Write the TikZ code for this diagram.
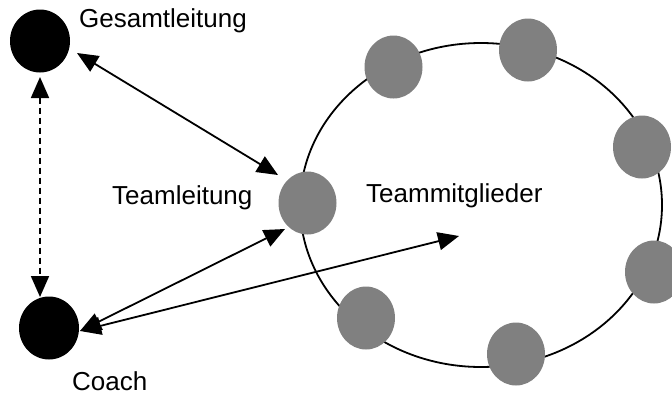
\documentclass[tikz,border=0pt]{standalone}
\usepackage{fontspec}
\setmainfont{Liberation Sans}
\usetikzlibrary{arrows.meta,shapes.geometric,calc}
\definecolor{gray50}{HTML}{808080}
\tikzset{
  blackdot/.style={ellipse,fill=black,minimum width=60pt,minimum height=63pt,inner sep=0pt},
  greydot/.style={ellipse,fill=gray50,minimum width=58pt,minimum height=63pt,inner sep=0pt},
  lbl/.style={anchor=base west,inner sep=0pt,font=\fontsize{26}{30}\selectfont},
  arr/.style={line width=1.8pt,{Triangle[length=21pt,width=18pt]}-{Triangle[length=21pt,width=18pt]}},
  dasharr/.style={arr,dash pattern=on 6pt off 4pt},
  ring/.style={line width=1.8pt}
}
\begin{document}
\begin{tikzpicture}[x=1pt,y=-1pt]
\useasboundingbox (0,0) rectangle (672,394);
\clip (0,0) rectangle (672,394);
\node[ellipse,draw,ring,minimum width=362pt,minimum height=324pt,inner sep=0pt] (team) at (481,205) {};
\node[blackdot] (G) at (40,41) {};
\node[blackdot] (C) at (49,328) {};
\node[greydot] (T) at (307.5,203) {};
\node[greydot] (m1) at (393.5,67) {};
\node[greydot] (m2) at (528,50) {};
\node[greydot] (m3) at (642,147) {};
\node[greydot] (m4) at (654,272) {};
\node[greydot] (m5) at (516,354) {};
\node[greydot] (m6) at (366,318) {};
\coordinate (tm) at (459,236);
\node[lbl] (lG) at (79,27) {Gesamtleitung};
\node[lbl] (lT) at (112,204) {Teamleitung};
\node[lbl] (lM) at (366,202) {Teammitglieder};
\node[lbl] (lC) at (72,390) {Coach};
\draw[arr] ($(G)+(37,12)$) -- ($(T)+(-29.5,-28)$);
\draw[dasharr] ($(G)+(0,36)$) -- ($(C)+(-9,-31)$);
\draw[arr] ($(C)+(31,3)$) -- ($(T)+(-22.5,26)$);
\draw[arr] ($(C)+(31,3)$) -- (tm);
\end{tikzpicture}
\end{document}
